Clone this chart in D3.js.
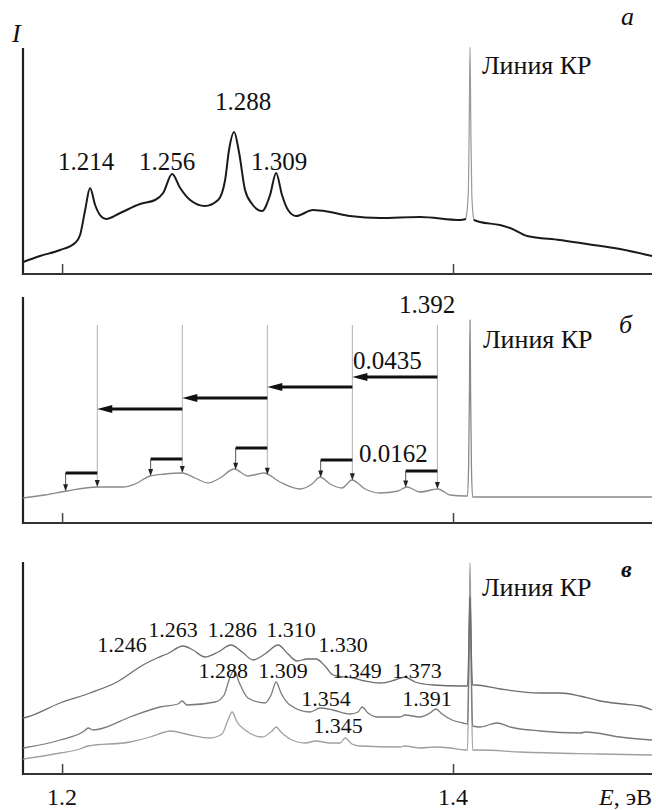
<!DOCTYPE html>
<html><head><meta charset="utf-8">
<script src="https://cdn.jsdelivr.net/npm/d3@7"></script>
<style>body{margin:0;background:#fff}svg{display:block}</style>
</head><body><svg id="c" width="656" height="810"></svg>
<script>
// ---------- DATA (energy in eV, intensity in arb. units) ----------
const energyTicks = [1.2, 1.4];
const tickLabels = ["1.2", "1.4"];

// panel a: luminescence spectrum
const spectrumA = [[1.1801,12],[1.1887,18],[1.1990,24],[1.2066,31],[1.2092,39],[1.2118,64],[1.2143,86],[1.2169,69],[1.2194,59],[1.2225,55],[1.2297,61],[1.2399,70],[1.2476,74],[1.2517,81],[1.2563,100],[1.2604,86],[1.2655,74],[1.2731,68],[1.2798,74],[1.2834,94],[1.2854,124],[1.2880,142],[1.2905,122],[1.2936,84],[1.2972,70],[1.3023,63],[1.3064,79],[1.3095,101],[1.3125,79],[1.3156,64],[1.3197,58],[1.3284,64],[1.3371,62],[1.3473,58],[1.3627,56],[1.3831,57],[1.4036,54],[1.4066,55]];
const spectrumA2 = [[1.4106,54],[1.4138,52],[1.4240,49],[1.4292,46],[1.4379,38],[1.4547,34],[1.4685,30],[1.4854,25],[1.5018,18]];
const laserA = [[1.4066,55],[1.4078,80],[1.4083,150],[1.4087,227],[1.4091,150],[1.4096,80],[1.4106,54]];
const peakLabelsA = [["1.214",1.2123,104],["1.256",1.2537,104],["1.288",1.2926,164],["1.309",1.3110,104]];

// panel б: model spectrum and phonon replicas
const spectrumB = [[1.1801,25],[1.1913,28],[1.2026,32],[1.2179,36],[1.2312,36],[1.2373,39],[1.2450,47],[1.2527,49],[1.2614,50],[1.2680,45],[1.2747,40],[1.2808,45],[1.2880,54],[1.2951,47],[1.3033,50],[1.3115,41],[1.3217,34],[1.3279,39],[1.3320,46],[1.3371,39],[1.3432,35],[1.3483,43],[1.3550,34],[1.3627,30],[1.3719,32],[1.3765,36],[1.3831,31],[1.3923,34],[1.3985,28],[1.4061,27],[1.4074,27],[1.4080,60],[1.4084,130],[1.4087,203],[1.4090,130],[1.4094,60],[1.4100,26],[1.4138,26],[1.5018,26]];
const replicaLines = [1.392, 1.3485, 1.305, 1.2615, 1.218];
const replicaTop = 198;
const bigStep = 0.0435;
const bigArrowLevels = [146, 136, 125, 114];
const smallStep = 0.0162;
const bracketLevels = [52, 63, 75, 64, 50];

// panel в: three spectra
const spectrumC1 = [[1.1801,56],[1.1821,57],[1.1990,71],[1.2143,81],[1.2281,92],[1.2414,109],[1.2486,116],[1.2537,120],[1.2619,128],[1.2670,124],[1.2731,117],[1.2798,122],[1.2864,129],[1.2921,122],[1.2977,114],[1.3038,120],[1.3105,129],[1.3156,120],[1.3202,113],[1.3253,115],[1.3299,115],[1.3345,108],[1.3386,99],[1.3448,97],[1.3488,96],[1.3550,93],[1.3627,91],[1.3703,94],[1.3754,97],[1.3806,92],[1.3898,89],[1.4046,88],[1.4074,88],[1.4080,120],[1.4084,160],[1.4087,177],[1.4090,160],[1.4094,120],[1.4100,89],[1.4113,89],[1.4240,85],[1.4445,81],[1.4547,81],[1.4650,78],[1.4752,73],[1.4870,70],[1.4957,68],[1.5018,64]];
const spectrumC2 = [[1.1801,26],[1.1990,34],[1.2113,43],[1.2133,46],[1.2159,44],[1.2194,45],[1.2348,57],[1.2501,67],[1.2593,70],[1.2614,73],[1.2639,69],[1.2783,72],[1.2829,79],[1.2854,94],[1.2880,104],[1.2905,92],[1.2951,76],[1.3038,71],[1.3069,79],[1.3095,92],[1.3120,81],[1.3166,69],[1.3269,62],[1.3320,66],[1.3386,64],[1.3473,60],[1.3514,62],[1.3535,67],[1.3565,61],[1.3616,57],[1.3729,57],[1.3754,59],[1.3831,57],[1.3882,61],[1.3913,65],[1.3944,60],[1.3995,54],[1.4051,51],[1.4074,50],[1.4080,100],[1.4084,150],[1.4087,177],[1.4090,150],[1.4094,100],[1.4100,48],[1.4138,47],[1.4225,51],[1.4292,47],[1.4445,43],[1.4650,41],[1.4680,42],[1.4854,37],[1.5018,34]];
const spectrumC3 = [[1.1801,15],[1.1990,21],[1.2092,25],[1.2133,28],[1.2348,32],[1.2450,37],[1.2527,42],[1.2552,43],[1.2655,39],[1.2757,36],[1.2818,40],[1.2849,54],[1.2870,62],[1.2895,52],[1.2936,44],[1.3023,37],[1.3074,43],[1.3095,47],[1.3120,42],[1.3166,35],[1.3243,31],[1.3299,33],[1.3371,31],[1.3422,31],[1.3448,36],[1.3483,30],[1.3524,28],[1.3729,27],[1.3754,28],[1.3831,26],[1.3908,27],[1.3985,26],[1.4061,24],[1.4074,24],[1.4080,90],[1.4084,170],[1.4087,211],[1.4090,170],[1.4094,90],[1.4100,24],[1.4138,24],[1.4343,22],[1.4752,20],[1.5018,19]];
const peakLabelsC = [["1.246",1.2307,122],["1.263",1.2568,137],["1.286",1.2870,137],["1.310",1.3171,137],["1.330",1.3437,122],["1.288",1.2824,96],["1.309",1.3130,96],["1.349",1.3509,96],["1.373",1.3816,96],["1.354",1.3350,68],["1.391",1.3867,68],["1.345",1.3412,41]];
const laserLabel = "Линия КР";

// ---------- LAYOUT ----------
const FONT = "'Liberation Serif', Tinos, 'Times New Roman', Times, 'DejaVu Serif', serif";
const svg = d3.select("#c");
const x = d3.scaleLinear().domain([1.18, 1.5018]).range([23, 652]);
const yA = d3.scaleLinear().domain([0, 226]).range([274, 48]);
const yB = d3.scaleLinear().domain([0, 226]).range([523, 297]);
const yC = d3.scaleLinear().domain([0, 212]).range([774, 562]);

function txt(xp, yp, size) {
  return svg.append("text").attr("x", xp).attr("y", yp).attr("font-size", size)
    .style("font-family", FONT).attr("fill", "#111");
}
function axes(y) {
  const g = svg.append("g");
  g.append("line").attr("x1", x.range()[0]).attr("x2", x.range()[0])
    .attr("y1", y.range()[1]).attr("y2", y.range()[0]+1)
    .attr("stroke", "#222").attr("stroke-width", 2.2);
  const ax = d3.axisTop(x).tickValues(energyTicks).tickSize(10).tickFormat("");
  const a = g.append("g").attr("transform", `translate(0,${y.range()[0]})`).call(ax);
  a.select(".domain").attr("d", `M${x.range()[0]},0H${x.range()[1]}`).attr("stroke", "#333").attr("stroke-width", 2.2);
  a.selectAll(".tick line").attr("stroke", "#444").attr("stroke-width", 1.5);
  return g;
}
function curve(y, data, color, w) {
  const line = d3.line().x(d => x(d[0])).y(d => y(d[1])).curve(d3.curveMonotoneX);
  svg.append("path").datum(data).attr("d", line).attr("fill", "none")
    .attr("stroke", color).attr("stroke-width", w).attr("stroke-linejoin", "round");
}
function valueAt(data, e) {
  const i = d3.bisector(d => d[0]).left(data, e);
  const a = data[Math.max(0, i - 1)], b = data[Math.min(data.length - 1, i)];
  if (a[0] === b[0]) return a[1];
  return a[1] + (b[1] - a[1]) * (e - a[0]) / (b[0] - a[0]);
}
function label(y, t, e, v, size, anchor) {
  txt(x(e), y(v), size).attr("text-anchor", anchor || "middle").text(t);
}

// ---------- PANEL a ----------
axes(yA);
curve(yA, laserA, "#9a9a9a", 1.2);
curve(yA, spectrumA, "#1a1a1a", 2);
curve(yA, spectrumA2, "#1a1a1a", 2);
peakLabelsA.forEach(d => label(yA, d[0], d[1], d[2], 25));
label(yA, laserLabel, 1.4148, 200, 26, "start");
txt(12, 42, 26).attr("font-style", "italic").text("I");
txt(621, 25, 26).attr("font-style", "italic").text("a");

// ---------- PANEL б ----------
axes(yB);
curve(yB, spectrumB, "#8a8a8a", 1.3);
function downArrow(xp, y1, y2, color) {
  svg.append("line").attr("x1", xp).attr("x2", xp).attr("y1", y1).attr("y2", y2 - 4)
    .attr("stroke", color).attr("stroke-width", 1);
  svg.append("path").attr("d", `M${xp-2.5},${y2-7}L${xp+2.5},${y2-7}L${xp},${y2}Z`).attr("fill", "#222");
}
replicaLines.forEach((e, i) => {
  const xp = x(e);
  downArrow(xp, yB(replicaTop), yB(valueAt(spectrumB, e)), "#b0b0b0");
  const el = e - smallStep, xl = x(el), yb = yB(bracketLevels[i]);
  downArrow(xl, yb, yB(valueAt(spectrumB, el)), "#555");
  svg.append("line").attr("x1", xl).attr("x2", xp).attr("y1", yb).attr("y2", yb)
    .attr("stroke", "#111").attr("stroke-width", 3);
});
bigArrowLevels.forEach((v, i) => {
  const x1 = x(replicaLines[i]), x2 = x(replicaLines[i] - bigStep), yy = yB(v);
  svg.append("line").attr("x1", x1).attr("x2", x2 + 12).attr("y1", yy).attr("y2", yy)
    .attr("stroke", "#111").attr("stroke-width", 3);
  svg.append("path").attr("d", `M${x2},${yy}L${x2+15},${yy-4}L${x2+15},${yy+4}Z`).attr("fill", "#111");
});
label(yB, "1.392", 1.3867, 210, 25);
label(yB, "0.0435", 1.3488, 154, 25, "start");
label(yB, "0.0162", 1.3519, 61, 25, "start");
label(yB, laserLabel, 1.4153, 175, 26, "start");
txt(619, 333, 26).attr("font-style", "italic").text("б");

// ---------- PANEL в ----------
axes(yC);
curve(yC, spectrumC3, "#a0a0a0", 1.3);
curve(yC, spectrumC2, "#7a7a7a", 1.3);
curve(yC, spectrumC1, "#6e6e6e", 1.3);
peakLabelsC.forEach(d => label(yC, d[0], d[1], d[2], 22));
label(yC, laserLabel, 1.4148, 178, 26, "start");
txt(621, 577, 24).attr("font-style", "italic").attr("font-weight", "bold").text("в");
energyTicks.forEach((e, i) => {
  txt(x(e), 805, 24).attr("text-anchor", "middle").text(tickLabels[i]);
});
const el = txt(652, 805, 24).attr("text-anchor", "end");
el.append("tspan").attr("font-style", "italic").text("E");
el.append("tspan").text(", эВ");
</script></body></html>
